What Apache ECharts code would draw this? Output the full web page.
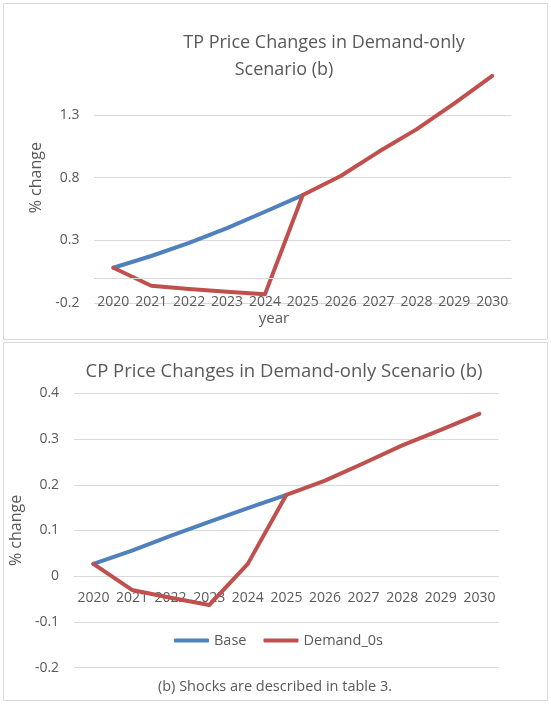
<!DOCTYPE html>
<html>
<head>
<meta charset="utf-8">
<script src="https://cdn.jsdelivr.net/npm/echarts@6/dist/echarts.min.js"></script>
<style>
html,body{margin:0;padding:0;background:#fff;}
#main{width:551px;height:704px;}
</style>
</head>
<body>
<div id="main"></div>
<script>
var years = ['2020','2021','2022','2023','2024','2025','2026','2027','2028','2029','2030'];
var tpBase   = [0.081, 0.175, 0.280, 0.398, 0.528, 0.661, null, null, null, null, null];
var tpDemand = [0.081, -0.062, -0.088, -0.110, -0.131, 0.661, 0.813, 1.006, 1.185, 1.392, 1.612];
var cpBase   = [0.027, 0.056, 0.088, 0.119, 0.149, 0.178, null, null, null, null, null];
var cpDemand = [0.027, -0.030, -0.047, -0.063, 0.027, 0.178, 0.209, 0.247, 0.286, 0.320, 0.355];
var tpTitle1 = 'TP Price Changes in Demand-only';
var tpTitle2 = 'Scenario (b)';
var cpTitle = 'CP Price Changes in Demand-only Scenario (b)';
var caption = '(b) Shocks are described in table 3.';

var FONT = '"Open Sans", sans-serif';
var TXT = '#595959';
var GRID = '#D9D9D9';
var BLUE = '#4F81BD';
var RED = '#C0504D';

// grid geometry (px)
var g1 = {left: 94.4, right: 39.8, top: 52.3, height: 250.7};
var g2 = {left: 71.3, right: 52.3, top: 393.3, height: 274.4};
var y1 = {min: -0.2, max: 1.8, interval: 0.5};
var y2 = {min: -0.2, max: 0.4, interval: 0.1};
// shift category axis up so it sits on the zero line (Excel style)
var off1 = -g1.height * (0 - y1.min) / (y1.max - y1.min);
var off2 = -g2.height * (0 - y2.min) / (y2.max - y2.min);

var chart = echarts.init(document.getElementById('main'), null, {renderer: 'canvas'});

function txt(x, y, s, size, align) {
  return {type: 'text', x: x, y: y, style: {text: s, fill: TXT, font: size + 'px ' + FONT, textAlign: align || 'center', textVerticalAlign: 'middle'}};
}
var zeroLine = {silent: true, symbol: 'none', label: {show: false},
  lineStyle: {color: GRID, width: 1, type: 'solid'}, data: [{yAxis: 0}]};

var option = {
  backgroundColor: '#fff',
  animation: false,
  textStyle: {fontFamily: FONT},
  graphic: [
    {type: 'rect', shape: {x: 3.5, y: 3.5, width: 544, height: 336}, style: {fill: 'none', stroke: GRID, lineWidth: 1}},
    {type: 'rect', shape: {x: 3.5, y: 342.5, width: 544, height: 358}, style: {fill: 'none', stroke: GRID, lineWidth: 1}},
    txt(324, 43, tpTitle1, 18),
    txt(284, 70, tpTitle2, 18),
    txt(274, 319, 'year', 15),
    txt(284, 372, cpTitle, 18.5),
    txt(275, 687, caption, 14.5)
  ],
  legend: {
    data: ['Base', 'Demand_0s'],
    left: 169,
    top: 628,
    icon: 'roundRect',
    itemWidth: 35,
    itemHeight: 4,
    itemGap: 17,
    textStyle: {color: TXT, fontSize: 14.5, fontFamily: FONT}
  },
  grid: [
    {left: g1.left, right: g1.right, top: g1.top, height: g1.height, containLabel: false},
    {left: g2.left, right: g2.right, top: g2.top, height: g2.height, containLabel: false}
  ],
  xAxis: [
    {type: 'category', gridIndex: 0, data: years, offset: off1, axisTick: {show: false},
     axisLine: {onZero: false, lineStyle: {color: GRID, width: 1}},
     axisLabel: {color: TXT, fontSize: 14, margin: 17, interval: 0, fontFamily: FONT}},
    {type: 'category', gridIndex: 1, data: years, offset: off2, axisTick: {show: false},
     axisLine: {onZero: false, lineStyle: {color: GRID, width: 1}},
     axisLabel: {color: TXT, fontSize: 14, margin: 15, interval: 0, fontFamily: FONT}}
  ],
  yAxis: [
    {type: 'value', gridIndex: 0, min: y1.min, max: y1.max, interval: y1.interval,
     name: '% change', nameLocation: 'middle', nameGap: 44,
     nameTextStyle: {color: TXT, fontSize: 16, fontFamily: FONT},
     axisLine: {show: false}, axisTick: {show: false},
     axisLabel: {color: TXT, fontSize: 14, margin: 15, showMaxLabel: false, fontFamily: FONT,
                 formatter: function (v) { return (Math.round(v * 10) / 10).toString(); }},
     splitLine: {show: true, showMaxLine: false, lineStyle: {color: GRID, width: 1}}},
    {type: 'value', gridIndex: 1, min: y2.min, max: y2.max, interval: y2.interval,
     name: '% change', nameLocation: 'middle', nameGap: 42,
     nameTextStyle: {color: TXT, fontSize: 16, fontFamily: FONT},
     axisLine: {show: false}, axisTick: {show: false},
     axisLabel: {color: TXT, fontSize: 14, margin: 15, fontFamily: FONT,
                 formatter: function (v) { return (Math.round(v * 10) / 10).toString(); }},
     splitLine: {show: true, lineStyle: {color: GRID, width: 1}}}
  ],
  series: [
    {name: 'Base', type: 'line', xAxisIndex: 0, yAxisIndex: 0, data: tpBase, showSymbol: false, symbol: 'none',
     lineStyle: {color: BLUE, width: 4, cap: 'round', join: 'round'}, itemStyle: {color: BLUE}, z: 2,
     markLine: zeroLine},
    {name: 'Demand_0s', type: 'line', xAxisIndex: 0, yAxisIndex: 0, data: tpDemand, showSymbol: false, symbol: 'none',
     lineStyle: {color: RED, width: 4, cap: 'round', join: 'round'}, itemStyle: {color: RED}, z: 3},
    {name: 'Base', type: 'line', xAxisIndex: 1, yAxisIndex: 1, data: cpBase, showSymbol: false, symbol: 'none',
     lineStyle: {color: BLUE, width: 4, cap: 'round', join: 'round'}, itemStyle: {color: BLUE}, z: 2},
    {name: 'Demand_0s', type: 'line', xAxisIndex: 1, yAxisIndex: 1, data: cpDemand, showSymbol: false, symbol: 'none',
     lineStyle: {color: RED, width: 4, cap: 'round', join: 'round'}, itemStyle: {color: RED}, z: 3}
  ]
};
chart.setOption(option);
</script>
</body>
</html>
